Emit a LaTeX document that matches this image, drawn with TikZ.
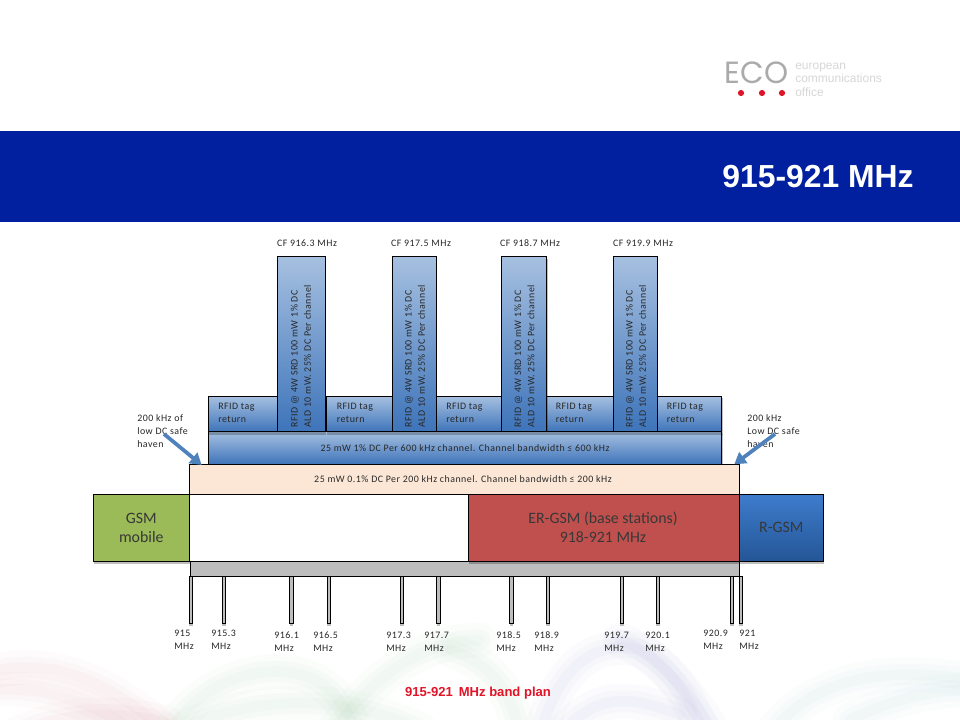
\documentclass[tikz,border=0pt]{standalone}
\usepackage{fontspec}
\setmainfont{Carlito}
\newfontfamily\lblfont[LetterSpace=5]{Carlito}
\newfontfamily\arialfont{Liberation Sans}
\newfontfamily\logofont{Poppins}
\usetikzlibrary{arrows.meta,calc}
\definecolor{bandblue}{RGB}{0,32,160}
\definecolor{barlight}{RGB}{166,192,224}
\definecolor{bardark}{RGB}{62,116,186}
\definecolor{peach}{RGB}{252,231,214}
\definecolor{gsmgreen}{RGB}{155,187,89}
\definecolor{ergsmred}{RGB}{192,80,77}
\definecolor{rgsmtop}{RGB}{62,124,204}
\definecolor{rgsmbot}{RGB}{36,86,150}
\definecolor{arrowblue}{RGB}{79,129,189}
\definecolor{txt}{RGB}{40,40,40}
\definecolor{logogray}{RGB}{170,170,170}
\definecolor{logotext}{RGB}{215,215,215}
\definecolor{logored}{RGB}{222,20,40}
\definecolor{barred}{RGB}{226,20,40}
\definecolor{swpink}{RGB}{225,150,160}
\definecolor{swgreen}{RGB}{150,200,160}
\definecolor{swblue}{RGB}{150,150,215}
\definecolor{swteal}{RGB}{150,200,205}
\tikzset{
 x=0.75pt,y=-0.75pt,
 box/.style={draw=black,line width=0.7pt,inner sep=0pt,outer sep=0pt,anchor=north west},
 bluebox/.style={box,top color=barlight,bottom color=bardark},
 peachbox/.style={box,fill=peach},
 whitebox/.style={box,fill=white},
 greenbox/.style={box,fill=gsmgreen},
 redbox/.style={box,fill=ergsmred},
 rgsmbox/.style={box,top color=rgsmtop,bottom color=rgsmbot},
 graybar/.style={box,fill=black!26},
 tickbar/.style={box,line width=0.7pt,fill=black!26},
 shadowfill/.style={fill=black,opacity=0.25},
 small/.style={font=\lblfont\fontsize{7.42}{9.9}\selectfont,text=txt,inner sep=0pt},
 ticklbl/.style={small,anchor=north west,align=left},
 bigger/.style={font=\fontsize{11.9}{14.4}\selectfont,text=black!78,align=center,inner sep=0pt},
 thickarrow/.style={draw=arrowblue,line width=2.8pt,-{Triangle[length=8.5pt,width=10pt]}},
}
% box with a soft shadow underneath
\newcommand{\sbx}[6]{\fill[shadowfill] (#2+1,#3+2) rectangle (#4+1,#5+3);\bx{#1}{#2}{#3}{#4}{#5}{#6}}
\newcommand{\bx}[6]{\node[#6,minimum width={(#4-#2)*0.75pt},minimum height={(#5-#3)*0.75pt}] (#1) at (#2,#3) {};}
\newcommand{\swirl}[2]{\foreach \w/\o in {26/.035,16/.045,8/.05}{\draw[#1,line width=\w pt,opacity=\o,line cap=round] #2;}}
\begin{document}
\begin{tikzpicture}
\useasboundingbox (0,0) rectangle (960,720);
\fill[white] (0,0) rectangle (960,720);
\begin{scope}
\clip (0,0) rectangle (960,720);
\swirl{swpink}{(-10,672) .. controls (60,655) and (120,690) .. (170,735)}
\swirl{swpink}{(-10,690) .. controls (40,685) and (90,700) .. (140,735)}
\swirl{swpink}{(15,735) .. controls (60,712) and (110,710) .. (165,722)}
\swirl{swgreen}{(170,730) .. controls (210,670) and (290,655) .. (330,690) .. controls (345,705) and (350,720) .. (360,735)}
\swirl{swgreen}{(330,735) .. controls (370,680) and (420,640) .. (480,640)}
\swirl{swgreen}{(190,725) .. controls (260,695) and (350,695) .. (420,730)}
\swirl{swgreen}{(450,650) .. controls (480,660) and (510,680) .. (520,735)}
\swirl{swblue}{(540,735) .. controls (560,660) and (600,640) .. (640,650) .. controls (670,665) and (690,700) .. (705,735)}
\swirl{swblue}{(560,735) .. controls (590,700) and (620,690) .. (680,715)}
\swirl{swblue}{(620,640) .. controls (650,650) and (690,690) .. (715,735)}
\swirl{swteal}{(770,735) .. controls (810,680) and (880,665) .. (970,680)}
\swirl{swteal}{(850,720) .. controls (890,700) and (930,690) .. (970,690)}
\end{scope}
% header
\fill[bandblue] (0,131) rectangle (960,222);
\node[font=\arialfont\bfseries\fontsize{23.9}{26}\selectfont,text=white,anchor=east,inner sep=0pt] (title) at (914,177) {915-921 MHz};
% logo
\node[font=\logofont\fontsize{23}{23}\selectfont,text=logogray,inner sep=0pt] (eco) at (756.5,73) {ECO};
\foreach \xx in {741,762,782}{\fill[logored] (\xx,93) circle (3.1);}
\node[font=\arialfont\fontsize{9}{10}\selectfont,text=logotext,anchor=west,align=left,inner sep=0pt] (office) at (795,79.5) {european\\communications\\office};
% stack
\sbx{ch600}{208.3}{431.7}{721.7}{464.3}{bluebox}
\sbx{ret1}{208.3}{396.3}{277.3}{431.7}{bluebox}
\sbx{ret2}{326.3}{396.3}{392.3}{431.7}{bluebox}
\sbx{ret3}{436.3}{396.3}{501.3}{431.7}{bluebox}
\sbx{ret4}{546.7}{396.3}{613.3}{431.7}{bluebox}
\sbx{ret5}{657.3}{396.3}{721.7}{431.7}{bluebox}
\sbx{rfid1}{277.3}{256.7}{325.3}{431.7}{bluebox}
\sbx{rfid2}{392.3}{256.7}{436.3}{431.7}{bluebox}
\sbx{rfid3}{501.3}{256.7}{546.7}{431.7}{bluebox}
\sbx{rfid4}{613.3}{256.7}{657.3}{431.7}{bluebox}
\foreach \xx in {191,224,291.3,329,402,438.3,511.7,548,622,658,732,741}{
  \fill[shadowfill] (\xx-1.6,580) rectangle (\xx+1.6,625.5);
  \node[tickbar,minimum width=2.7pt,minimum height={46.3*0.75pt},anchor=north] at (\xx,576.7) {};
}
\bx{gray}{190.3}{561.3}{739.3}{576.7}{graybar}
\sbx{ch200}{189.3}{464.3}{739.3}{494.3}{peachbox}
\bx{white}{189.3}{494.3}{468.3}{561.3}{whitebox}
\sbx{gsm}{93.3}{494.3}{189.3}{561.3}{greenbox}
\sbx{ergsm}{468.3}{494.3}{739.3}{561.3}{redbox}
\sbx{rgsm}{739.3}{494.3}{823.3}{561.3}{rgsmbox}
% box texts
\node[bigger] (tgsm) at (gsm) {GSM\\mobile};
\node[bigger] (tergsm) at (603,527.5) {ER-GSM (base stations)\\918-921 MHz};
\node[bigger] (trgsm) at (rgsm) {R-GSM};
\node[small] (t600) at (465,448) {25 mW 1\% DC Per 600 kHz channel. Channel bandwidth ≤ 600 kHz};
\node[small] (t200) at (463,479) {25 mW 0.1\% DC Per 200 kHz channel. Channel bandwidth ≤ 200 kHz};
\foreach \xx/\nm in {218/1,336.5/2,446/3,555.5/4,666.5/5}{
  \node[small,anchor=north west,align=left] (rt\nm) at (\xx,403) {RFID tag\\return};
}
\foreach \xx/\nm in {301/1,415/2,524.5/3,636/4}{
  \node[small,rotate=90,anchor=west,align=left] (rv\nm) at (\xx,427.5) {RFID @ 4W SRD 100 mW 1\% DC\\ALD 10 mW. 25\% DC Per channel};
}
\node[small] (cf1) at (307,243.5) {CF 916.3 MHz};
\node[small] (cf2) at (421,243.5) {CF 917.5 MHz};
\node[small] (cf3) at (530,243.5) {CF 918.7 MHz};
\node[small] (cf4) at (643,243.5) {CF 919.9 MHz};
\node[small,anchor=north west,align=left] (hl) at (137,414) {200 kHz of\\low DC safe\\haven};
\node[small,anchor=north west,align=left] (hr) at (747,414) {200 kHz\\Low DC safe\\haven};
% arrows
\coordinate (al) at (164,434);
\coordinate (ar) at (775,434);
\coordinate (tl) at ($(ch200.north west)+(12.4,0.7)$);
\coordinate (tr) at ($(ch200.north east)+(-5,0)$);
\draw[thickarrow] (al) -- (tl);
\draw[thickarrow] (ar) -- (tr);
% tick labels
\foreach \xx/\yy/\lab in {174/630/915,211/630/915.3,274/631.5/916.1,313/631.5/916.5,386/631.5/917.3,424/631.5/917.7,496/631.5/918.5,534/631.5/918.9,604/631.5/919.7,645/631.5/920.1,703/630/920.9,739/630/921}{
  \node[ticklbl] at (\xx,\yy) {\lab\\MHz};
}
\node[font=\arialfont\bfseries\fontsize{9.8}{10}\selectfont,text=barred,inner sep=0pt] (plan) at (478,693) {915-921 \,MHz band plan};
\end{tikzpicture}
\end{document}
